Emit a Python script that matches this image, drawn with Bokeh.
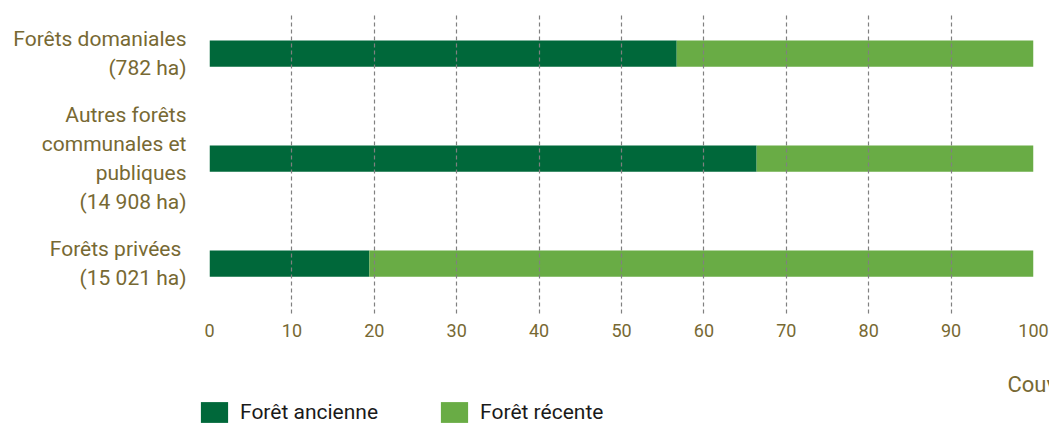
from bokeh.plotting import figure
from bokeh.models import (Range1d, FixedTicker, Legend, LegendItem, Label,
                          ColumnDataSource)
from bokeh.layouts import column
from bokeh.embed import file_html
from bokeh.resources import INLINE

# ---- data ----
categories = ["Forêts domaniales\n(782 ha)",
              "Autres forêts\ncommunales et\npubliques\n(14 908 ha)",
              "Forêts privées \n(15 021 ha)"]
foret_ancienne = [56.7, 66.4, 19.4]
foret_recente = [43.3, 33.6, 80.6]
series_names = ["Forêt ancienne", "Forêt récente"]
x_ticks = [0, 10, 20, 30, 40, 50, 60, 70, 80, 90, 100]
x_title = "Couverture forestière (%)"

FONT = "Roboto"
OLIVE = "#776933"
DARK = "#00683a"
LIGHT = "#69ac45"

ypos = list(range(len(categories)))
source = ColumnDataSource(dict(y=ypos, anc=foret_ancienne, rec=foret_recente))

# ---- main chart ----
p = figure(output_backend="svg", toolbar_location=None,
           x_range=Range1d(0, 100), y_range=Range1d(2.495, -0.362),
           frame_width=824, frame_height=300,
           min_border_left=209, min_border_right=16, min_border_top=15,
           min_border_bottom=35)
p.outline_line_color = None

p.hbar_stack(["anc", "rec"], y="y", height=0.25, source=source,
             color=[DARK, LIGHT], line_width=0)

p.xaxis.ticker = FixedTicker(ticks=x_ticks)
p.xaxis.axis_line_color = None
p.xaxis.major_tick_line_color = None
p.xaxis.major_tick_out = 0
p.xaxis.minor_tick_line_color = None
p.xaxis.major_label_text_font = FONT
p.xaxis.major_label_text_font_size = "18px"
p.xaxis.major_label_text_color = OLIVE
p.xaxis.major_label_standoff = 8

p.yaxis.ticker = FixedTicker(ticks=ypos)
p.yaxis.major_label_overrides = {i: c for i, c in zip(ypos, categories)}
p.yaxis.axis_line_color = None
p.yaxis.major_tick_line_color = None
p.yaxis.major_tick_out = 0
p.yaxis.minor_tick_line_color = None
p.yaxis.major_label_text_font = FONT
p.yaxis.major_label_text_font_size = "21px"
p.yaxis.major_label_text_color = OLIVE
p.yaxis.major_label_standoff = 23
p.yaxis.major_label_text_line_height = 1.2

p.ygrid.grid_line_color = None
p.xgrid.grid_line_color = "#808080"
p.xgrid.grid_line_dash = "4 3"
p.xgrid.grid_line_width = 1.2
p.xgrid.level = "overlay"

# ---- bottom strip: axis title + legend ----
lf = figure(output_backend="svg", toolbar_location=None,
            x_range=Range1d(0, 1049), y_range=Range1d(75, 0),
            frame_width=1049, frame_height=75, min_border=0,
            x_axis_location=None, y_axis_location=None)
lf.outline_line_color = None
lf.xgrid.grid_line_color = None
lf.ygrid.grid_line_color = None
lf.extra_y_ranges = {"hidden": Range1d(100, 101)}
lrs = lf.hbar_stack(["anc", "rec"], y="y", height=0.25, source=source,
                    color=[DARK, LIGHT], line_width=0, y_range_name="hidden")

lf.add_layout(Label(x=798, y=34, text=x_title, text_align="left",
                    text_baseline="alphabetic", text_font=FONT,
                    text_font_size="22px", text_color=OLIVE))

legend = Legend(items=[LegendItem(label=series_names[0], renderers=[lrs[0]]),
                       LegendItem(label=series_names[1], renderers=[lrs[1]])],
                orientation="horizontal", location=(197, 0),
                glyph_width=34, glyph_height=26, label_standoff=9, spacing=59,
                padding=0, margin=0, border_line_color=None,
                background_fill_alpha=0,
                label_text_font=FONT, label_text_font_size="21px",
                label_text_color="#1a1a1a")
lf.add_layout(legend, "center")

open("out.html", "w").write(file_html(column(p, lf, spacing=0), INLINE))
